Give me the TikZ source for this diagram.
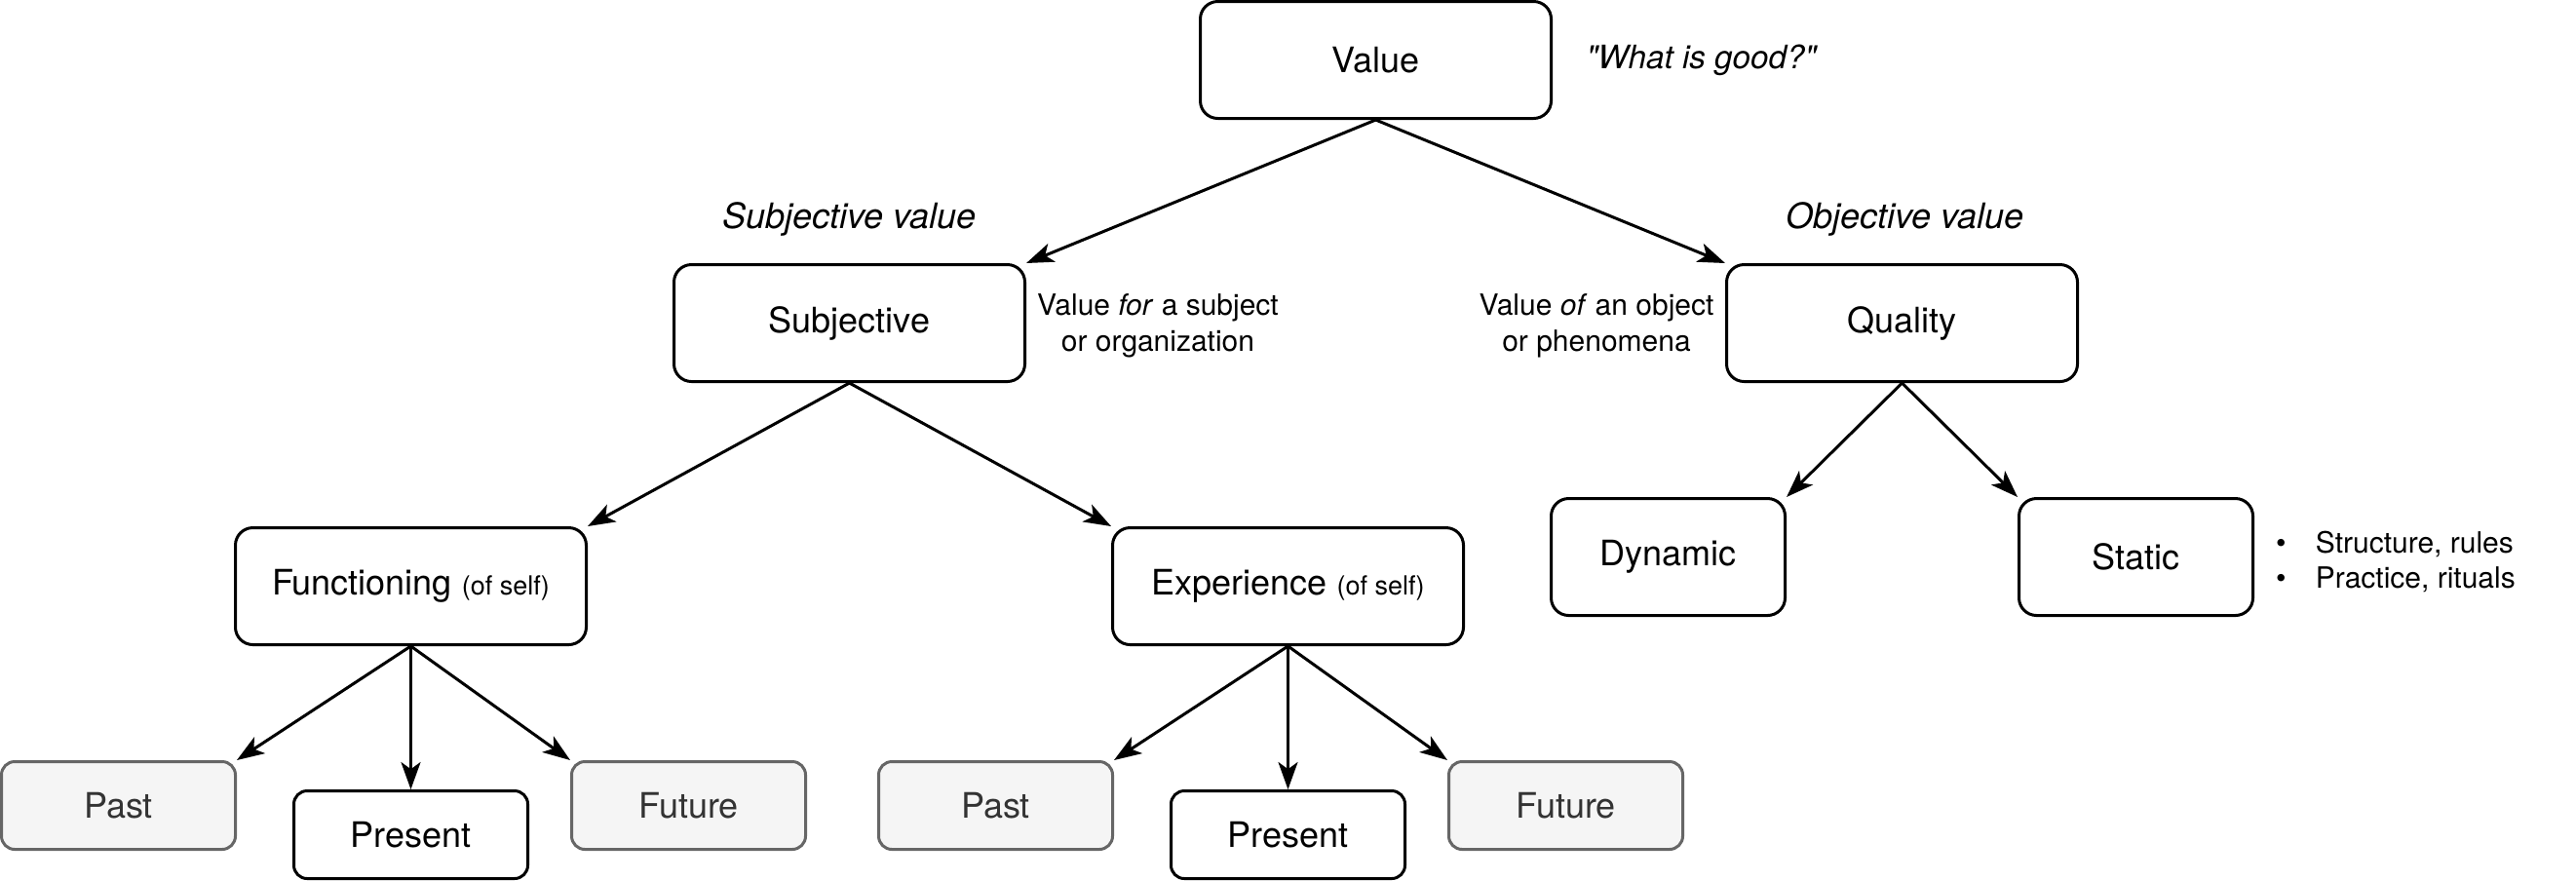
\documentclass[tikz,border=0pt]{standalone}
\usepackage{fontspec}
\setmainfont{TeX Gyre Heros}
\usetikzlibrary{arrows.meta}

\definecolor{greyfill}{HTML}{F5F5F5}
\definecolor{greyline}{HTML}{666666}
\definecolor{greytext}{HTML}{333333}

\tikzset{every picture/.style={line width=0.75pt}}
\tikzset{
  bigbox/.style={draw, rounded corners=4.5pt, minimum width=90pt, minimum height=30pt, inner sep=0pt, font=\fontsize{9}{10.8}\selectfont},
  midbox/.style={bigbox, minimum width=60pt},
  lowbox/.style={bigbox, rounded corners=3.4pt, minimum width=60pt, minimum height=22.5pt},
  greybox/.style={lowbox, draw=greyline, fill=greyfill, text=greytext},
  tagtext/.style={inner sep=0pt, font=\fontsize{9}{10.8}\itshape},
  sidetext/.style={inner sep=0pt, align=center, font=\fontsize{7.5}{9.3}\selectfont},
  conn/.style={-{Stealth[length=7pt,width=5pt,inset=1.8pt]}},
}
\newcommand{\ofself}{{\fontsize{6.75}{8}\selectfont (of self)}}
\newcommand{\listdot}{\makebox[8.6pt][l]{\hspace*{-1.6pt}\textbullet}}

\begin{document}
\begin{tikzpicture}[x=0.75pt,y=0.75pt,yscale=-1,xscale=1]
\useasboundingbox (0,0) rectangle (881,301);

%Rounded Rect
\node[bigbox] (value) at (470.5,20.5) {Value};
%Rounded Rect
\node[bigbox] (subj) at (290.5,110.5) {Subjective};
%Rounded Rect
\node[bigbox] (quality) at (650.5,110.5) {Quality};
%Rounded Rect
\node[midbox] (dyn) at (570.5,190.5) {Dynamic};
%Rounded Rect
\node[midbox] (stat) at (730.5,190.5) {Static};
%Rounded Rect
\node[bigbox] (func) at (140.5,200.5) {Functioning \ofself};
%Rounded Rect
\node[bigbox] (exper) at (440.5,200.5) {Experience \ofself};
%Rounded Rect
\node[greybox] (funcpast) at (40.5,275.5) {Past};
\node[lowbox] (funcnow) at (140.5,285.5) {Present};
\node[greybox] (funcfut) at (235.5,275.5) {Future};
%Rounded Rect
\node[greybox] (exppast) at (340.5,275.5) {Past};
\node[lowbox] (expnow) at (440.5,285.5) {Present};
\node[greybox] (expfut) at (535.5,275.5) {Future};

% Text Node
\node[tagtext, font=\fontsize{8.3}{10}\itshape, anchor=west] (question) at (542,20.5) {\textquotedbl What is good?\textquotedbl};
% Text Node
\node[tagtext] (subjtag) at (290.5,75) {Subjective value};
% Text Node
\node[tagtext] (objtag) at (651.5,75) {Objective value};
% Text Node
\node[sidetext] (fornote) at (396,111.5) {Value \textit{for} a subject\\or organization};
% Text Node
\node[sidetext] (ofnote) at (546,111.5) {Value \textit{of} an object\\or phenomena};
% Text Node
\node[sidetext, align=left, anchor=west, font=\fontsize{7.5}{9}\selectfont] (staticlist) at (780,192) {\listdot Structure, rules\\\listdot Practice, rituals};

% Connection
\draw[conn] (value.south) -- (subj.north east);
\draw[conn] (value.south) -- (quality.north west);
% Connection
\draw[conn] (subj.south) -- (func.north east);
\draw[conn] (subj.south) -- (exper.north west);
% Connection
\draw[conn] (quality.south) -- (dyn.north east);
\draw[conn] (quality.south) -- (stat.north west);
% Connection
\draw[conn] (func.south) -- (funcpast.north east);
\draw[conn] (func.south) -- (funcnow.north);
\draw[conn] (func.south) -- (funcfut.north west);
% Connection
\draw[conn] (exper.south) -- (exppast.north east);
\draw[conn] (exper.south) -- (expnow.north);
\draw[conn] (exper.south) -- (expfut.north west);

\end{tikzpicture}
\end{document}
